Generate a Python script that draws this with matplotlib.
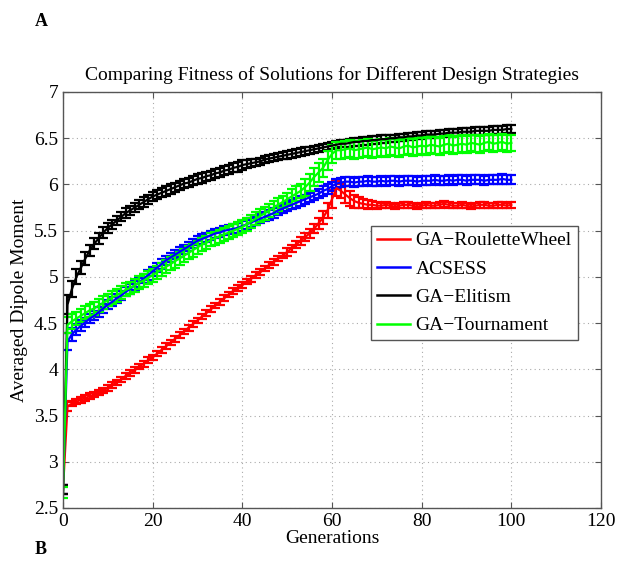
import matplotlib
matplotlib.use("Agg")
import matplotlib.pyplot as plt
from matplotlib.lines import Line2D
import numpy as np

plt.rcParams['font.family'] = ['Liberation Serif', 'DejaVu Serif']

# generations 0..100
generations = list(range(101))

# GA-RouletteWheel (red)
roulette = [2.70,
            3.60, 3.63, 3.65, 3.67, 3.69, 3.71, 3.73, 3.75, 3.77, 3.80,
            3.83, 3.86, 3.89, 3.93, 3.96, 3.99, 4.03, 4.06, 4.10, 4.13,
            4.17, 4.21, 4.25, 4.29, 4.33, 4.37, 4.41, 4.45, 4.49, 4.53,
            4.57, 4.61, 4.65, 4.69, 4.73, 4.77, 4.81, 4.85, 4.88, 4.91,
            4.95, 4.98, 5.02, 5.05, 5.09, 5.13, 5.16, 5.20, 5.23, 5.27,
            5.31, 5.35, 5.39, 5.43, 5.47, 5.52, 5.58, 5.64, 5.72, 5.84,
            5.96, 5.93, 5.89, 5.85, 5.82, 5.80, 5.79, 5.78, 5.78, 5.77,
            5.77, 5.78, 5.77, 5.76, 5.77, 5.78, 5.78, 5.77, 5.76, 5.77,
            5.78, 5.77, 5.77, 5.78, 5.79, 5.78, 5.77, 5.77, 5.78, 5.77,
            5.76, 5.77, 5.78, 5.78, 5.77, 5.77, 5.78, 5.78, 5.77, 5.78]
roulette_err = [0.05,
                0.05, 0.03, 0.03, 0.03, 0.03, 0.03, 0.03, 0.03, 0.03, 0.03,
                0.03, 0.03, 0.03, 0.03, 0.03, 0.03, 0.03, 0.03, 0.03, 0.03,
                0.03, 0.03, 0.03, 0.03, 0.03, 0.03, 0.03, 0.03, 0.03, 0.03,
                0.03, 0.03, 0.03, 0.03, 0.03, 0.03, 0.03, 0.03, 0.03, 0.03,
                0.03, 0.03, 0.03, 0.03, 0.03, 0.03, 0.03, 0.03, 0.03, 0.04,
                0.04, 0.04, 0.04, 0.04, 0.05, 0.05, 0.06, 0.07, 0.08, 0.10,
                0.08, 0.08, 0.09, 0.08, 0.07, 0.06, 0.05, 0.05, 0.04, 0.04,
                0.03, 0.03, 0.03, 0.03, 0.03, 0.03, 0.03, 0.03, 0.03, 0.03,
                0.03, 0.03, 0.03, 0.03, 0.03, 0.03, 0.03, 0.03, 0.03, 0.03,
                0.03, 0.03, 0.03, 0.03, 0.03, 0.03, 0.03, 0.03, 0.03, 0.03]

# ACSESS (blue)
acsess = [2.70,
          4.30, 4.38, 4.43, 4.47, 4.51, 4.55, 4.58, 4.62, 4.66, 4.70,
          4.73, 4.77, 4.80, 4.84, 4.87, 4.91, 4.94, 4.98, 5.02, 5.06,
          5.10, 5.14, 5.18, 5.21, 5.24, 5.27, 5.30, 5.33, 5.36, 5.39,
          5.41, 5.43, 5.45, 5.47, 5.48, 5.50, 5.51, 5.52, 5.53, 5.55,
          5.57, 5.59, 5.61, 5.63, 5.65, 5.67, 5.69, 5.72, 5.74, 5.76,
          5.78, 5.80, 5.82, 5.84, 5.86, 5.88, 5.90, 5.93, 5.95, 5.98,
          6.01, 6.02, 6.03, 6.03, 6.02, 6.03, 6.03, 6.04, 6.03, 6.03,
          6.04, 6.03, 6.04, 6.04, 6.03, 6.04, 6.04, 6.04, 6.03, 6.04,
          6.04, 6.04, 6.05, 6.04, 6.04, 6.05, 6.04, 6.05, 6.05, 6.04,
          6.05, 6.05, 6.05, 6.04, 6.05, 6.05, 6.05, 6.06, 6.05, 6.05]
acsess_err = [0.05,
              0.09, 0.07, 0.06, 0.06, 0.05, 0.05, 0.05, 0.05, 0.05, 0.05,
              0.05, 0.05, 0.05, 0.05, 0.05, 0.05, 0.05, 0.05, 0.05, 0.05,
              0.05, 0.05, 0.05, 0.05, 0.05, 0.05, 0.05, 0.05, 0.05, 0.05,
              0.05, 0.05, 0.05, 0.05, 0.05, 0.05, 0.05, 0.05, 0.05, 0.05,
              0.05, 0.05, 0.05, 0.05, 0.05, 0.05, 0.05, 0.05, 0.05, 0.05,
              0.05, 0.05, 0.05, 0.05, 0.05, 0.05, 0.05, 0.05, 0.05, 0.05,
              0.05, 0.05, 0.05, 0.05, 0.05, 0.05, 0.05, 0.05, 0.05, 0.05,
              0.05, 0.05, 0.05, 0.05, 0.05, 0.05, 0.05, 0.05, 0.05, 0.05,
              0.05, 0.05, 0.05, 0.05, 0.05, 0.05, 0.05, 0.05, 0.05, 0.05,
              0.05, 0.05, 0.05, 0.05, 0.05, 0.05, 0.05, 0.05, 0.05, 0.05]

# GA-Elitism (black)
elitism = [2.70,
           4.70, 4.87, 5.00, 5.10, 5.20, 5.29, 5.36, 5.42, 5.48, 5.53,
           5.57, 5.61, 5.65, 5.69, 5.72, 5.75, 5.78, 5.81, 5.84, 5.87,
           5.89, 5.91, 5.93, 5.95, 5.97, 5.99, 6.01, 6.02, 6.04, 6.06,
           6.07, 6.09, 6.10, 6.12, 6.13, 6.15, 6.16, 6.18, 6.19, 6.21,
           6.22, 6.23, 6.24, 6.25, 6.27, 6.28, 6.29, 6.30, 6.31, 6.32,
           6.33, 6.34, 6.35, 6.36, 6.37, 6.38, 6.39, 6.40, 6.41, 6.42,
           6.43, 6.44, 6.44, 6.45, 6.46, 6.46, 6.47, 6.47, 6.48, 6.48,
           6.49, 6.49, 6.50, 6.50, 6.51, 6.51, 6.52, 6.52, 6.53, 6.53,
           6.54, 6.54, 6.54, 6.55, 6.55, 6.56, 6.56, 6.56, 6.57, 6.57,
           6.57, 6.58, 6.58, 6.58, 6.58, 6.59, 6.59, 6.59, 6.60, 6.60]
elitism_err = [0.05,
               0.10, 0.09, 0.08, 0.07, 0.07, 0.06, 0.06, 0.06, 0.06, 0.05,
               0.05, 0.05, 0.05, 0.05, 0.05, 0.05, 0.05, 0.05, 0.05, 0.05,
               0.05, 0.05, 0.05, 0.05, 0.05, 0.05, 0.05, 0.05, 0.05, 0.05,
               0.05, 0.05, 0.05, 0.05, 0.05, 0.05, 0.05, 0.05, 0.05, 0.05,
               0.04, 0.04, 0.04, 0.04, 0.04, 0.04, 0.04, 0.04, 0.04, 0.04,
               0.04, 0.04, 0.04, 0.04, 0.04, 0.04, 0.04, 0.04, 0.04, 0.04,
               0.04, 0.04, 0.04, 0.04, 0.04, 0.04, 0.04, 0.04, 0.04, 0.04,
               0.04, 0.04, 0.04, 0.04, 0.04, 0.04, 0.04, 0.04, 0.04, 0.04,
               0.04, 0.04, 0.04, 0.04, 0.04, 0.04, 0.04, 0.04, 0.04, 0.04,
               0.04, 0.04, 0.04, 0.04, 0.04, 0.04, 0.04, 0.04, 0.04, 0.04]

# GA-Tournament (green)
tournament = [2.67,
              4.48, 4.52, 4.55, 4.58, 4.61, 4.64, 4.66, 4.69, 4.72, 4.75,
              4.78, 4.80, 4.83, 4.86, 4.88, 4.91, 4.94, 4.96, 4.99, 5.02,
              5.05, 5.08, 5.11, 5.14, 5.17, 5.20, 5.23, 5.26, 5.29, 5.32,
              5.35, 5.37, 5.40, 5.42, 5.44, 5.46, 5.48, 5.50, 5.52, 5.54,
              5.57, 5.60, 5.63, 5.66, 5.69, 5.72, 5.75, 5.78, 5.81, 5.84,
              5.87, 5.90, 5.93, 5.97, 6.02, 6.08, 6.13, 6.18, 6.26, 6.33,
              6.37, 6.37, 6.38, 6.39, 6.37, 6.38, 6.39, 6.40, 6.38, 6.39,
              6.40, 6.39, 6.41, 6.40, 6.39, 6.41, 6.42, 6.40, 6.41, 6.42,
              6.41, 6.43, 6.42, 6.41, 6.43, 6.44, 6.42, 6.43, 6.44, 6.43,
              6.45, 6.44, 6.43, 6.45, 6.46, 6.44, 6.45, 6.46, 6.44, 6.45]
tournament_err = [0.06,
                  0.09, 0.08, 0.07, 0.07, 0.07, 0.07, 0.07, 0.07, 0.07, 0.07,
                  0.07, 0.07, 0.07, 0.07, 0.07, 0.07, 0.07, 0.07, 0.07, 0.07,
                  0.07, 0.07, 0.07, 0.07, 0.07, 0.07, 0.07, 0.07, 0.07, 0.07,
                  0.07, 0.07, 0.07, 0.07, 0.07, 0.07, 0.07, 0.07, 0.07, 0.07,
                  0.07, 0.07, 0.07, 0.07, 0.07, 0.07, 0.07, 0.07, 0.07, 0.07,
                  0.08, 0.08, 0.08, 0.09, 0.09, 0.10, 0.10, 0.10, 0.10, 0.10,
                  0.09, 0.09, 0.09, 0.09, 0.09, 0.09, 0.09, 0.09, 0.09, 0.09,
                  0.09, 0.09, 0.09, 0.09, 0.09, 0.09, 0.09, 0.09, 0.09, 0.09,
                  0.09, 0.09, 0.09, 0.09, 0.09, 0.09, 0.09, 0.09, 0.09, 0.09,
                  0.09, 0.09, 0.09, 0.09, 0.09, 0.09, 0.09, 0.09, 0.09, 0.09]

series_names = ["GA\u2212RouletteWheel", "ACSESS", "GA\u2212Elitism", "GA\u2212Tournament"]
series_colors = ["#ff0000", "#0000ff", "#000000", "#00ff00"]

fig = plt.figure(figsize=(6.19, 5.71), dpi=100)
ax = fig.add_axes([63/619, 1 - 508/571, 538/619, 416/571])

all_series = [(roulette, roulette_err), (acsess, acsess_err),
              (elitism, elitism_err), (tournament, tournament_err)]
for (vals, errs), c in zip(all_series, series_colors):
    ax.errorbar(generations, vals, yerr=errs, color=c, linewidth=1.6,
                elinewidth=1.6, capsize=3.4, capthick=1.6)

ax.set_xlim(0, 120)
ax.set_ylim(2.5, 7)
ax.set_xticks(np.arange(0, 121, 20))
ax.set_yticks(np.arange(2.5, 7.01, 0.5))
ax.set_yticklabels(["2.5", "3", "3.5", "4", "4.5", "5", "5.5", "6", "6.5", "7"])
ax.grid(True, linestyle=(0, (1, 3)), color='#aaaaaa', linewidth=0.8)
ax.tick_params(direction='in', top=True, right=True, labelsize=14,
               length=4, color='#555555')
for s in ax.spines.values():
    s.set_color('#555555')
    s.set_linewidth(1.0)

ax.set_title("Comparing Fitness of Solutions for Different Design Strategies",
             fontsize=14, pad=9)
ax.set_xlabel("Generations", fontsize=14, labelpad=0)
ax.set_ylabel("Averaged Dipole Moment", fontsize=14, labelpad=4)

handles = [Line2D([], [], color=c, linewidth=1.8) for c in series_colors]
leg = ax.legend(handles, series_names, loc='upper left',
                bbox_to_anchor=(371/619, 1 - 226/571), bbox_transform=fig.transFigure,
                borderaxespad=0, fancybox=False, edgecolor='#555555',
                framealpha=1, fontsize=14, handlelength=1.7, handletextpad=0.3,
                labelspacing=0.55, borderpad=0.3)
leg.get_frame().set_linewidth(1.0)

fig.text(35/619, 1 - 22/571, "A", fontsize=13, fontweight='bold', va='center', ha='left')
fig.text(35/619, 1 - 549/571, "B", fontsize=13, fontweight='bold', va='center', ha='left')

fig.savefig("out.png", dpi=100)
